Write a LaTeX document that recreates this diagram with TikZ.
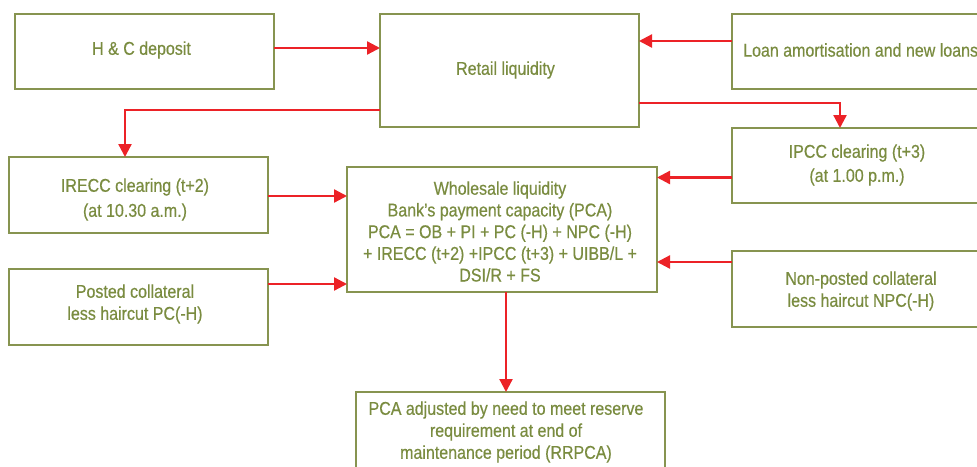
\documentclass[tikz,border=0pt]{standalone}
\usepackage{fontspec}
\setmainfont{Liberation Sans}[FakeStretch=0.865,FakeBold=0.5]
\usetikzlibrary{arrows.meta}
\definecolor{olivetext}{RGB}{122,140,64}
\definecolor{oliveline}{RGB}{135,148,80}
\definecolor{arrowred}{RGB}{236,34,39}
\begin{document}
\begin{tikzpicture}[x=1pt,y=-1pt,
  box/.style={draw=oliveline, line width=1.3pt, inner sep=0pt, outer sep=0pt},
  txt/.style={text=olivetext, font=\fontsize{18.5}{22}\selectfont, align=center, inner sep=0pt},
  flow/.style={draw=arrowred, line width=2.3pt, -{Triangle[length=13pt,width=13pt]}}]
\clip (0,0) rectangle (977,466);
\fill[white] (0,0) rectangle (977,466);
% boxes
\node[box, minimum width=259pt, minimum height=75pt] (hc) at (144.5,51.5) {};
\node[box, minimum width=259pt, minimum height=113pt] (retail) at (509.5,70.5) {};
\node[box, minimum width=268pt, minimum height=75pt] (loan) at (866,51.5) {};
\node[box, minimum width=268pt, minimum height=75pt] (ipcc) at (866,165.5) {};
\node[box, minimum width=259pt, minimum height=76pt] (irecc) at (138.5,195) {};
\node[box, minimum width=310pt, minimum height=125pt] (whole) at (502,229.5) {};
\node[box, minimum width=259pt, minimum height=76pt] (posted) at (138.5,307) {};
\node[box, minimum width=268pt, minimum height=76pt] (npc) at (866,289) {};
\node[box, minimum width=309pt, minimum height=98pt] (rr) at (510.5,441) {};
% texts
\node[txt] (hct) at (141.5,50) {H \& C deposit};
\node[txt] (retailt) at (505.5,70) {Retail liquidity};
\node[txt, anchor=west] (loant) at (743,50) {Loan amortisation and new loans};
\node[txt, font=\fontsize{18.5}{24}\selectfont] (ipcct) at (857,165) {IPCC clearing (t+3)\\(at 1.00 p.m.)};
\node[txt, font=\fontsize{18.5}{25}\selectfont] (irecct) at (135,199.5) {IRECC clearing (t+2)\\(at 10.30 a.m.)};
\node[txt, font=\fontsize{18.5}{21.7}\selectfont] (wholet) at (500,231.5) {Wholesale liquidity\\Bank’s payment capacity (PCA)\\PCA = OB + PI + PC (-H) + NPC (-H)\\+ IRECC (t+2) +IPCC (t+3) + UIBB/L +\\DSI/R + FS};
\node[txt] (postedt) at (135,304) {Posted collateral\\less haircut PC(-H)};
\node[txt] (npct) at (861,291) {Non-posted collateral\\less haircut NPC(-H)};
\node[txt] (rrt) at (506,432) {PCA adjusted by need to meet reserve\\requirement at end of\\maintenance period (RRPCA)};
% connectors
\draw[flow] ([yshift=3.5pt]hc.east) coordinate (a1) -- (a1 -| retail.west);
\draw[flow] ([yshift=10.5pt]loan.west) coordinate (a2) -- (a2 -| retail.east);
\draw[flow] ([yshift=-39.5pt]retail.west) -| ([xshift=-13.5pt]irecc.north);
\draw[flow] ([yshift=-32.5pt]retail.east) -| ([xshift=-26pt]ipcc.north);
\draw[flow] ([yshift=-12pt]ipcc.west) coordinate (a3) -- (a3 -| whole.east);
\draw[flow] ([yshift=-1pt]irecc.east) coordinate (a4) -- (a4 -| whole.west);
\draw[flow] ([yshift=23pt]posted.east) coordinate (a5) -- (a5 -| whole.west);
\draw[flow] ([yshift=27pt]npc.west) coordinate (a6) -- (a6 -| whole.east);
\draw[flow] ([xshift=4pt]whole.south) coordinate (a7) -- (a7 |- rr.north);
\end{tikzpicture}
\end{document}
